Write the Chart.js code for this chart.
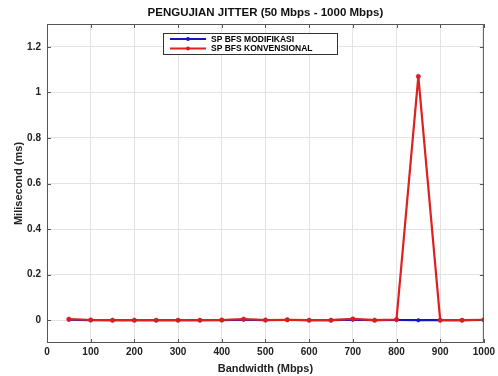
<!DOCTYPE html>
<html>
<head>
<meta charset="utf-8">
<script src="https://cdn.jsdelivr.net/npm/chart.js@4.4.1/dist/chart.umd.min.js"></script>
<style>
  html, body { margin: 0; padding: 0; background: #fff; }
  #wrap { width: 498px; height: 376px; position: relative; }
</style>
</head>
<body>
<div id="wrap"><canvas id="chart" width="498" height="376"></canvas></div>
<script>
// data
const bandwidth = [50, 100, 150, 200, 250, 300, 350, 400, 450, 500, 550, 600, 650, 700, 750, 800, 850, 900, 950, 1000];
const modifikasi = [0.002, 0, 0, 0, 0, 0, 0, 0, 0.002, 0, 0.001, 0, 0, 0.002, 0, 0.001, 0, 0, 0, 0.001];
const konvensional = [0.005, 0.001, 0, 0, 0, 0, 0, 0.001, 0.005, 0.001, 0.002, 0, 0, 0.006, 0, 0.003, 1.07, 0, 0, 0.002];
const yTicks = [0, 0.2, 0.4, 0.6, 0.8, 1, 1.2];

const titleText = 'PENGUJIAN JITTER (50 Mbps - 1000 Mbps)';
const font = '"Liberation Sans", Arial, sans-serif';

const toPoints = vals => vals.map((v, i) => ({ x: bandwidth[i], y: v }));

// title, frame, inner ticks and the boxed legend, MATLAB style
const matlabDeco = {
  id: 'matlabDeco',
  afterDraw(chart) {
    const { ctx, chartArea: a, scales } = chart;
    ctx.save();
    ctx.fillStyle = '#111';
    ctx.font = 'bold 11.5px ' + font;
    ctx.textAlign = 'center';
    ctx.textBaseline = 'middle';
    ctx.fillText(titleText, (a.left + a.right) / 2, 13);

    ctx.strokeStyle = '#555';
    ctx.lineWidth = 1;
    ctx.strokeRect(a.left + 0.5, a.top + 0.5, a.right - a.left - 1, a.bottom - a.top - 1);

    ctx.beginPath();
    for (let v = 0; v <= 1000; v += 100) {
      const x = Math.round(scales.x.getPixelForValue(v)) + 0.5;
      ctx.moveTo(x, a.bottom); ctx.lineTo(x, a.bottom - 4);
      ctx.moveTo(x, a.top); ctx.lineTo(x, a.top + 4);
    }
    yTicks.forEach(v => {
      const y = Math.round(scales.y.getPixelForValue(v)) + 0.5;
      ctx.moveTo(a.left, y); ctx.lineTo(a.left + 4, y);
      ctx.moveTo(a.right, y); ctx.lineTo(a.right - 4, y);
    });
    ctx.stroke();

    // legend
    const lx = 163, ly = 33, lw = 174, lh = 21;
    ctx.fillStyle = '#fff';
    ctx.fillRect(lx, ly, lw, lh);
    ctx.strokeStyle = '#333';
    ctx.strokeRect(lx + 0.5, ly + 0.5, lw, lh);
    ctx.font = 'bold 8.5px ' + font;
    ctx.textAlign = 'left';
    chart.data.datasets.forEach((ds, i) => {
      const y = ly + 6 + i * 9.5;
      ctx.strokeStyle = ds.borderColor;
      ctx.lineWidth = 2;
      ctx.beginPath(); ctx.moveTo(lx + 7, y); ctx.lineTo(lx + 43, y); ctx.stroke();
      ctx.fillStyle = ds.pointBackgroundColor;
      ctx.beginPath(); ctx.arc(lx + 25, y, 2, 0, Math.PI * 2); ctx.fill();
      ctx.fillStyle = '#000';
      ctx.fillText(ds.label, lx + 48, y + 0.5);
    });
    ctx.restore();
  }
};

new Chart(document.getElementById('chart'), {
  type: 'line',
  data: {
    datasets: [
      {
        label: 'SP BFS MODIFIKASI',
        data: toPoints(modifikasi),
        borderColor: '#1515c8',
        pointBackgroundColor: '#1515c8',
        pointBorderColor: '#1515c8',
        borderWidth: 2.2,
        pointRadius: 1.8,
        pointBorderWidth: 0.5,
        order: 1
      },
      {
        label: 'SP BFS KONVENSIONAL',
        data: toPoints(konvensional),
        borderColor: '#dd2020',
        pointBackgroundColor: '#d81e1e',
        pointBorderColor: '#d81e1e',
        borderWidth: 2.2,
        pointRadius: 2.2,
        pointBorderWidth: 0.5,
        order: 0
      }
    ]
  },
  options: {
    responsive: false,
    animation: false,
    layout: { padding: { top: 24, right: 11, left: 12, bottom: 0 } },
    plugins: { legend: { display: false }, tooltip: { enabled: false }, title: { display: false } },
    scales: {
      x: {
        type: 'linear',
        min: 0, max: 1000,
        ticks: { stepSize: 100, color: '#222', font: { family: font, size: 10, weight: 'bold' }, padding: 3, maxRotation: 0, callback: v => String(v) },
        grid: { color: '#e3e3e3', drawTicks: false },
        border: { display: false },
        title: { display: true, text: 'Bandwidth (Mbps)', color: '#222', font: { family: font, size: 11, weight: 'bold' }, padding: { top: 0, bottom: 0 } },
        afterFit: s => { s.height = 33; }
      },
      y: {
        min: -0.1, max: 1.3,
        afterBuildTicks: s => { s.ticks = yTicks.map(v => ({ value: v })); },
        ticks: { color: '#222', font: { family: font, size: 10, weight: 'bold' }, padding: 6, callback: v => String(v) },
        grid: { color: '#e3e3e3', drawTicks: false },
        border: { display: false },
        title: { display: true, text: 'Milisecond (ms)', color: '#222', font: { family: font, size: 11, weight: 'bold' }, padding: { top: 0, bottom: 0 } },
        afterFit: s => { s.width = 35; }
      }
    }
  },
  plugins: [matlabDeco]
});
</script>
</body>
</html>
